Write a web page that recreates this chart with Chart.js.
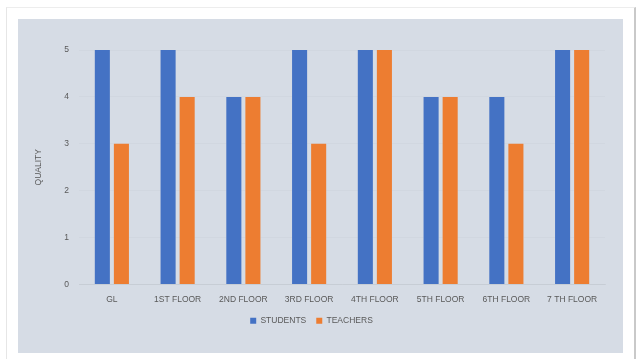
<!DOCTYPE html>
<html lang="en">
<head>
  <meta charset="UTF-8">
  <title>Quality by floor</title>
  <script src="https://cdn.jsdelivr.net/npm/chart.js@4.4.1/dist/chart.umd.min.js"></script>
  <style>
    html, body { margin: 0; padding: 0; background: #fff; }
    body { width: 642px; height: 359px; position: relative; overflow: hidden; }
    .sheet {
      position: absolute; left: 6px; top: 7px; width: 627px; height: 360px;
      background: #fff; border-left: 1px solid #e6e6e6; border-top: 1px solid #ededed;
      border-right: 2px solid #c9c9c9;
    }
    .plot {
      position: absolute; left: 18px; top: 19px; width: 605px; height: 334px;
      background: #d6dce5;
    }
  </style>
</head>
<body>
  <div class="sheet"></div>
  <div class="plot"><canvas id="floorChart" width="605" height="334"></canvas></div>
  <script>
    // floors surveyed and the quality score given by each group
    const floors = ['GL', '1ST FLOOR', '2ND FLOOR', '3RD FLOOR', '4TH FLOOR', '5TH FLOOR', '6TH FLOOR', '7 TH FLOOR'];
    const students = [5, 5, 4, 5, 5, 4, 4, 5];
    const teachers = [3, 4, 4, 3, 5, 4, 3, 5];
    const yTicks = [0, 1, 2, 3, 4, 5];

    const textColor = '#595959';
    const font = { family: "'Liberation Sans', Arial, sans-serif", size: 8.5 };

    new Chart(document.getElementById('floorChart'), {
      type: 'bar',
      data: {
        labels: floors,
        datasets: [
          { label: 'STUDENTS', data: students, backgroundColor: '#4472c4', barPercentage: 0.79, categoryPercentage: 0.58 },
          { label: 'TEACHERS', data: teachers, backgroundColor: '#ed7d31', barPercentage: 0.79, categoryPercentage: 0.58 }
        ]
      },
      options: {
        responsive: false,
        animation: false,
        layout: { padding: { left: 0, right: 18, top: 31, bottom: 18 } },
        plugins: {
          legend: {
            position: 'bottom',
            labels: { boxWidth: 6, boxHeight: 6, color: textColor, font: font, padding: 10 }
          },
          tooltip: { enabled: false }
        },
        scales: {
          x: {
            grid: { display: false },
            border: { display: true, color: 'rgba(0,0,0,0.05)' },
            ticks: { color: textColor, font: font, maxRotation: 0, autoSkip: false, padding: 2 },
            afterFit: s => { s.height = 22; }
          },
          y: {
            min: 0, max: 5,
            afterBuildTicks: s => { s.ticks = yTicks.map(v => ({ value: v })); },
            grid: { color: 'rgba(0,0,0,0.02)', drawTicks: false },
            border: { display: false },
            ticks: { color: textColor, font: font, padding: 10 },
            title: { display: true, text: 'QUALITY', color: textColor, font: font, padding: { top: 16, bottom: 0 } },
            afterFit: s => { s.width = 61; }
          }
        }
      }
    });
  </script>
</body>
</html>
